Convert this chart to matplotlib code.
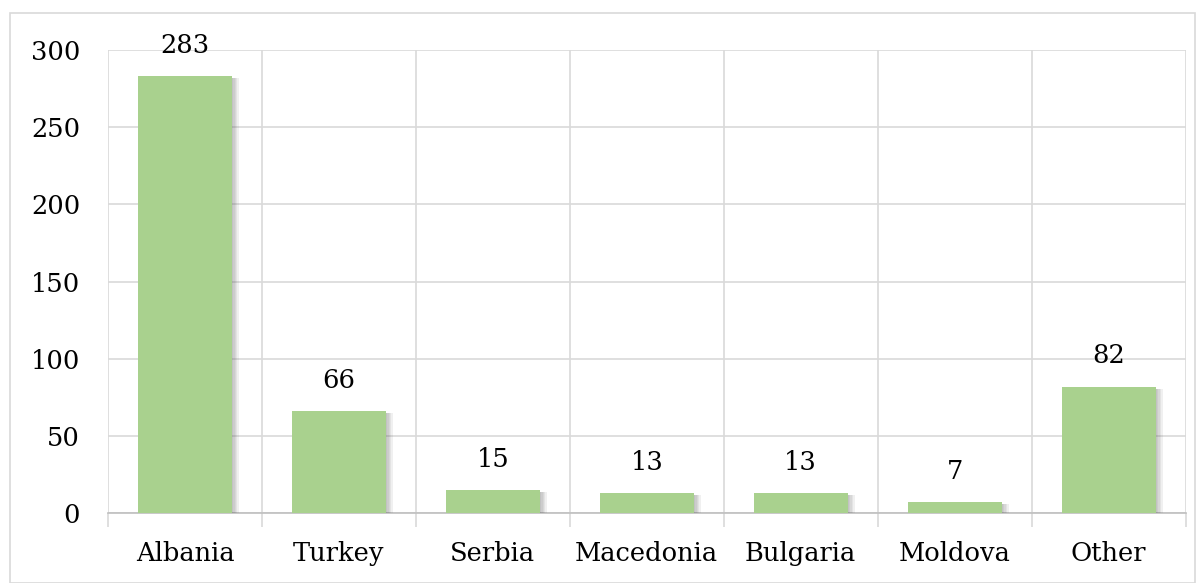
import matplotlib.pyplot as plt
import matplotlib.patheffects as pe
from matplotlib.patches import Rectangle

countries = ['Albania', 'Turkey', 'Serbia', 'Macedonia', 'Bulgaria', 'Moldova', 'Other']
counts = [283, 66, 15, 13, 13, 7, 82]
yticks = [0, 50, 100, 150, 200, 250, 300]

plt.rcParams['font.family'] = ['DejaVu Serif']
fs = 18.5

fig = plt.figure(figsize=(12, 5.83), dpi=100)
ax = fig.add_axes([0.09, 0.12, 0.898, 0.794])

# light frame round the whole chart
fig.patches.append(Rectangle((0.008, 0.0), 0.988, 0.978, transform=fig.transFigure,
                             fill=False, edgecolor='#d9d9d9', linewidth=1.2))

x = range(len(countries))
bars = ax.bar(x, counts, width=0.61, color='#a9d18e', zorder=3)
# soft grey shadow on the right side of each bar
shadow = [pe.SimplePatchShadow(offset=(k, -1.5), shadow_rgbFace='#606060', alpha=0.09)
          for k in range(1, 6)]
for b in bars:
    b.set_path_effects(shadow + [pe.Normal()])

for xi, v in zip(x, counts):
    ax.annotate(str(v), (xi, v), xytext=(0, 13), textcoords='offset points',
                ha='center', va='bottom', fontsize=fs)

ax.set_xlim(-0.5, len(countries) - 0.5)
ax.set_ylim(0, 300)
ax.set_yticks(yticks)
ax.set_xticks(x)
ax.set_xticklabels(countries)

# vertical gridlines between categories
ax.set_xticks([i - 0.5 for i in range(len(countries) + 1)], minor=True)
ax.grid(axis='y', color='#d9d9d9', linewidth=1.2, zorder=0)
ax.grid(axis='x', which='minor', color='#d9d9d9', linewidth=1.2, zorder=0)
ax.tick_params(axis='x', which='major', length=0, pad=20, labelsize=fs)
ax.tick_params(axis='x', which='minor', length=10, color='#d9d9d9', width=1.2)
ax.tick_params(axis='y', length=0, pad=20, labelsize=fs)

for s in ['top', 'right', 'left']:
    ax.spines[s].set_visible(False)
ax.spines['bottom'].set_color('#bfbfbf')
ax.spines['bottom'].set_linewidth(1.2)

fig.savefig('out.png', dpi=100)
